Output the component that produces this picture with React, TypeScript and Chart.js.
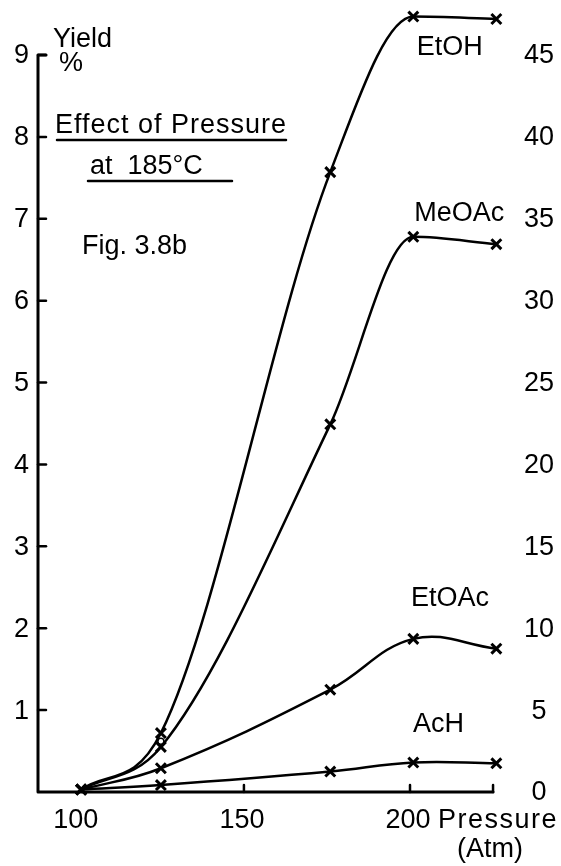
import React, { useEffect, useRef } from "react";
import { Chart, registerables } from "chart.js";

Chart.register(...registerables);

// ---- data ----
const pressure = [101, 125, 176, 201, 226];
const etoh = [0.03, 0.72, 7.57, 9.47, 9.44];
const meoac = [0.03, 0.55, 4.49, 6.78, 6.69];
const etoac = [0.03, 0.29, 1.25, 1.87, 1.75];
const ach = [0.03, 0.085, 0.25, 0.36, 0.35];
const circlePoint = [{ x: 125, y: 0.62 }];

const seriesNames = ["EtOH", "MeOAc", "EtOAc", "AcH"];
const seriesLabelAt = [
  { x: 202, y: 9.0 },
  { x: 201.3, y: 6.97 },
  { x: 200.3, y: 2.27 },
  { x: 200.9, y: 0.73 },
];

const leftTickValues = [1, 2, 3, 4, 5, 6, 7, 8, 9];
const leftTickLabels = ["1", "2", "3", "4", "5", "6", "7", "8", "9"];
const rightTickValues = [0, 5, 10, 15, 20, 25, 30, 35, 40, 45];
const rightTickLabels = ["0", "5", "10", "15", "20", "25", "30", "35", "40", "45"];
const xLabelValues = [100, 150, 200];
const xLabelTexts = ["100", "150", "200"];
const xTickMarks = [150, 200, 225];
const xAxisEnd = 225;
const yAxisTop = 9;

const FONT = "'Liberation Sans', Arial, sans-serif";

const toPts = (ys: number[]) => pressure.map((x, i) => ({ x, y: ys[i] }));

const decorPlugin = {
  id: "decor",
  afterDraw(chart: any) {
    const ctx = chart.ctx as any;
    const xs = chart.scales.x;
    const ys = chart.scales.y;
    const x0 = xs.getPixelForValue(xs.min);
    const y0 = ys.getPixelForValue(0);
    ctx.save();
    ctx.strokeStyle = "#000";
    ctx.fillStyle = "#000";
    ctx.lineCap = "round";
    ctx.lineJoin = "round";
    // axes
    ctx.lineWidth = 3;
    ctx.beginPath();
    ctx.moveTo(x0 + 8, ys.getPixelForValue(yAxisTop));
    ctx.lineTo(x0, ys.getPixelForValue(yAxisTop));
    ctx.lineTo(x0, y0);
    ctx.lineTo(xs.getPixelForValue(xAxisEnd), y0);
    ctx.stroke();
    // left ticks
    ctx.lineWidth = 2.5;
    leftTickValues.forEach((v) => {
      const py = ys.getPixelForValue(v);
      ctx.beginPath();
      ctx.moveTo(x0, py);
      ctx.lineTo(x0 + 8, py);
      ctx.stroke();
    });
    // bottom ticks
    xTickMarks.forEach((v) => {
      const px = xs.getPixelForValue(v);
      ctx.beginPath();
      ctx.moveTo(px, y0);
      ctx.lineTo(px, y0 - 7);
      ctx.stroke();
    });
    // tick labels
    ctx.font = `27px ${FONT}`;
    ctx.textBaseline = "middle";
    ctx.textAlign = "right";
    leftTickValues.forEach((v, i) => {
      ctx.fillText(leftTickLabels[i], 29, ys.getPixelForValue(v) + 1);
    });
    ctx.textAlign = "center";
    rightTickValues.forEach((v, i) => {
      ctx.fillText(rightTickLabels[i], 539, ys.getPixelForValue(v / 5) + 1);
    });
    ctx.textBaseline = "alphabetic";
    xLabelValues.forEach((v, i) => {
      ctx.fillText(xLabelTexts[i], xs.getPixelForValue(v) - 2, 828);
    });
    ctx.textAlign = "left";
    ctx.letterSpacing = "1.5px";
    ctx.fillText("Pressure", 438, 828);
    ctx.letterSpacing = "0px";
    ctx.textAlign = "center";
    ctx.fillText("(Atm)", 490, 857);
    // series labels
    ctx.textAlign = "left";
    seriesNames.forEach((n, i) => {
      ctx.fillText(n, xs.getPixelForValue(seriesLabelAt[i].x), ys.getPixelForValue(seriesLabelAt[i].y));
    });
    // title block
    ctx.fillText("Yield", 53, 47);
    ctx.fillText("%", 59, 71);
    ctx.letterSpacing = "1px";
    ctx.fillText("Effect of Pressure", 55, 133);
    ctx.letterSpacing = "0px";
    ctx.fillText("at  185°C", 90, 174);
    ctx.fillText("Fig. 3.8b", 82, 254);
    ctx.lineWidth = 2.5;
    ctx.beginPath();
    ctx.moveTo(57, 140);
    ctx.lineTo(286, 140);
    ctx.moveTo(88, 181);
    ctx.lineTo(232, 181);
    ctx.stroke();
    ctx.restore();
  },
};

export default function App() {
  const ref = useRef<HTMLCanvasElement>(null);
  useEffect(() => {
    if (!ref.current) return;
    const common = {
      borderColor: "#000",
      borderWidth: 2.5,
      pointStyle: "crossRot" as const,
      pointRadius: 7,
      pointBorderWidth: 3,
      pointBorderColor: "#000",
      pointBackgroundColor: "#000",
      tension: 0.4,
      fill: false,
      clip: false as any,
    };
    const chart = new Chart(ref.current, {
      type: "line",
      data: {
        datasets: [
          { label: "EtOH", data: toPts(etoh), ...common, cubicInterpolationMode: "monotone" as const },
          { label: "MeOAc", data: toPts(meoac), ...common, cubicInterpolationMode: "monotone" as const },
          { label: "EtOAc", data: toPts(etoac), ...common },
          { label: "AcH", data: toPts(ach), ...common },
          {
            label: "circle",
            data: circlePoint,
            showLine: false,
            pointStyle: "circle",
            pointRadius: 3,
            pointBorderWidth: 1.5,
            pointBorderColor: "#000",
            pointBackgroundColor: "#fff",
            clip: false as any,
          },
        ],
      },
      options: {
        animation: false,
        responsive: false,
        devicePixelRatio: 1,
        layout: { padding: { left: 38, right: 58, top: 5, bottom: 74 } },
        plugins: { legend: { display: false }, tooltip: { enabled: false } },
        scales: {
          x: { type: "linear", min: 88, max: 228, display: false },
          y: { type: "linear", min: 0, max: 9.55, display: false },
        },
      },
      plugins: [decorPlugin],
    });
    return () => chart.destroy();
  }, []);
  return (
    <div style={{ position: "absolute", left: 0, top: 0, width: 561, height: 866, background: "#fff" }}>
      <canvas ref={ref} width={561} height={866} style={{ display: "block" }} />
    </div>
  );
}
